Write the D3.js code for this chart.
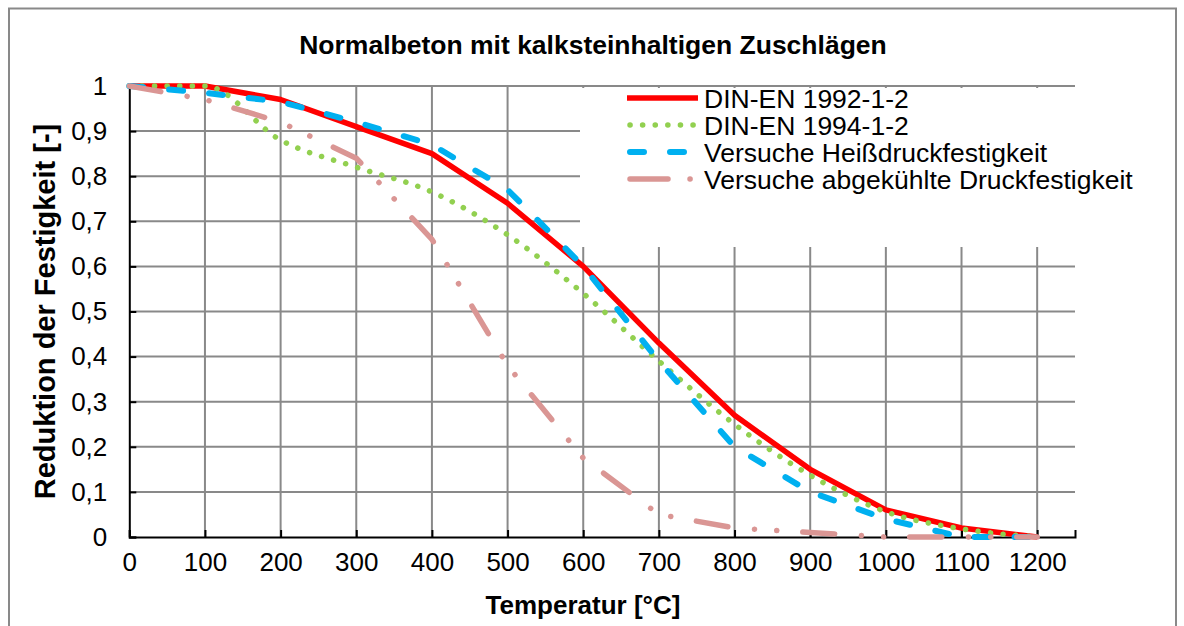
<!DOCTYPE html>
<html><head><meta charset="utf-8">
<script src="https://cdn.jsdelivr.net/npm/d3@7"></script>
<style>body{margin:0;background:#fff;} text{font-family:"Liberation Sans",Arial,sans-serif;}</style>
</head><body>
<svg id="c" width="1184" height="626"></svg>
<script>
const temps = [0,100,200,300,400,500,600,700,800,900,1000,1100,1200];
const din1992 = [1,1,0.97,0.91,0.85,0.74,0.60,0.43,0.27,0.15,0.06,0.02,0];
const din1994 = [1,1,0.88,0.82,0.765,0.67,0.54,0.39,0.25,0.137,0.056,0.018,0];
const heiss   = [1,0.985,0.965,0.92,0.87,0.77,0.60,0.39,0.20,0.10,0.04,0,0];
const abgek   = [1,0.97,0.92,0.84,0.66,0.38,0.175,0.05,0.02,0.01,0,0,0];
const xTicks = [0,100,200,300,400,500,600,700,800,900,1000,1100,1200];
const yTicks = [0,0.1,0.2,0.3,0.4,0.5,0.6,0.7,0.8,0.9,1];
const seriesNames = ["DIN-EN 1992-1-2","DIN-EN 1994-1-2","Versuche Heißdruckfestigkeit","Versuche abgekühlte Druckfestigkeit"];
const title = "Normalbeton mit kalksteinhaltigen Zuschlägen";
const xTitle = "Temperatur [°C]";
const yTitle = "Reduktion der Festigkeit [-]";

const styles = [
  {color:"#FF0000", width:5.5, dash:null, cap:"butt"},
  {color:"#92D050", width:5.5, dash:"0.1,12.5", cap:"round"},
  {color:"#00B0F0", width:6, dash:"14,26", cap:"round"},
  {color:"#DA9694", width:5.5, dash:"32,26.7,0.1,22.2,0.1,26", cap:"round"}
];
const seriesData = [din1992, din1994, heiss, abgek];

const svg = d3.select("#c");
const fmt = v => String(v).replace(".", ",");
const x = d3.scaleLinear().domain([0,1250]).range([129.3,1075]);
const y = d3.scaleLinear().domain([0,1]).range([537,86]);

// outer border
svg.append("rect").attr("x",9).attr("y",8.5).attr("width",1167).attr("height",640)
  .attr("fill","#fff").attr("stroke","#898989").attr("stroke-width",2);

// gridlines
svg.append("g").selectAll("line").data(yTicks.filter(d=>d>0)).join("line")
  .attr("x1",x(0)).attr("x2",x(1250)).attr("y1",d=>y(d)).attr("y2",d=>y(d))
  .attr("stroke","#898989").attr("stroke-width",2);
svg.append("g").selectAll("line").data(xTicks.filter(d=>d>0)).join("line")
  .attr("x1",d=>x(d)).attr("x2",d=>x(d)).attr("y1",y(0)).attr("y2",y(1))
  .attr("stroke","#898989").attr("stroke-width",2);

// axes
const xAxis = d3.axisBottom(x).tickValues(xTicks).tickSize(-7).tickFormat(d=>d).tickPadding(16);
const gx = svg.append("g").attr("transform",`translate(0,${y(0)})`).call(xAxis);
gx.select(".domain").attr("stroke","#000").attr("stroke-width",2);
gx.selectAll(".tick line").attr("stroke","#000").attr("stroke-width",2);
gx.selectAll(".tick text").attr("font-size",26).attr("fill","#000").attr("font-family","Liberation Sans, Arial, sans-serif");

const yAxis = d3.axisLeft(y).tickValues(yTicks).tickSize(-7).tickFormat(fmt).tickPadding(22);
const gy = svg.append("g").attr("transform",`translate(${x(0)},0)`).call(yAxis);
gy.select(".domain").attr("stroke","#000").attr("stroke-width",2);
gy.selectAll(".tick line").attr("stroke","#000").attr("stroke-width",2);
gy.selectAll(".tick text").attr("font-size",26).attr("fill","#000").attr("font-family","Liberation Sans, Arial, sans-serif");

// legend background
svg.append("rect").attr("x",580).attr("y",88).attr("width",565).attr("height",159).attr("fill","#fff");

// lines
const line = d3.line().x((d,i)=>x(temps[i])).y(d=>y(d));
const lineSmooth = d3.line().x((d,i)=>x(temps[i])).y(d=>y(d)).curve(d3.curveMonotoneX);
seriesData.forEach((s,i)=>{
  const st = styles[i];
  svg.append("path").datum(s).attr("d", i===1 ? lineSmooth : line)
    .attr("fill","none").attr("stroke",st.color).attr("stroke-width",st.width)
    .attr("stroke-dasharray",st.dash).attr("stroke-linecap",st.cap).attr("stroke-linejoin","round");
});

// legend
const leg = svg.append("g");
seriesNames.forEach((n,i)=>{
  const st = styles[i];
  const yy = 98 + i*27;
  leg.append("line").attr("x1",i===0?627:630).attr("x2",i===0?698:696).attr("y1",yy).attr("y2",yy)
    .attr("stroke",st.color).attr("stroke-width",st.width)
    .attr("stroke-dasharray", i===3 ? "38,22,0.1,40" : st.dash)
    .attr("stroke-linecap",st.cap);
  leg.append("text").attr("x",704).attr("y",yy+9.5).attr("font-size",26.5).text(n);
});

// titles
svg.append("text").attr("x",593).attr("y",54).attr("text-anchor","middle")
  .attr("font-size",26.5).attr("font-weight","bold").text(title);
svg.append("text").attr("x",583).attr("y",614).attr("text-anchor","middle")
  .attr("font-size",26).attr("font-weight","bold").text(xTitle);
svg.append("text").attr("transform",`translate(55,${(y(0)+y(1))/2}) rotate(-90)`).attr("text-anchor","middle")
  .attr("font-size",29).attr("font-weight","bold").text(yTitle);
</script>
</body></html>
